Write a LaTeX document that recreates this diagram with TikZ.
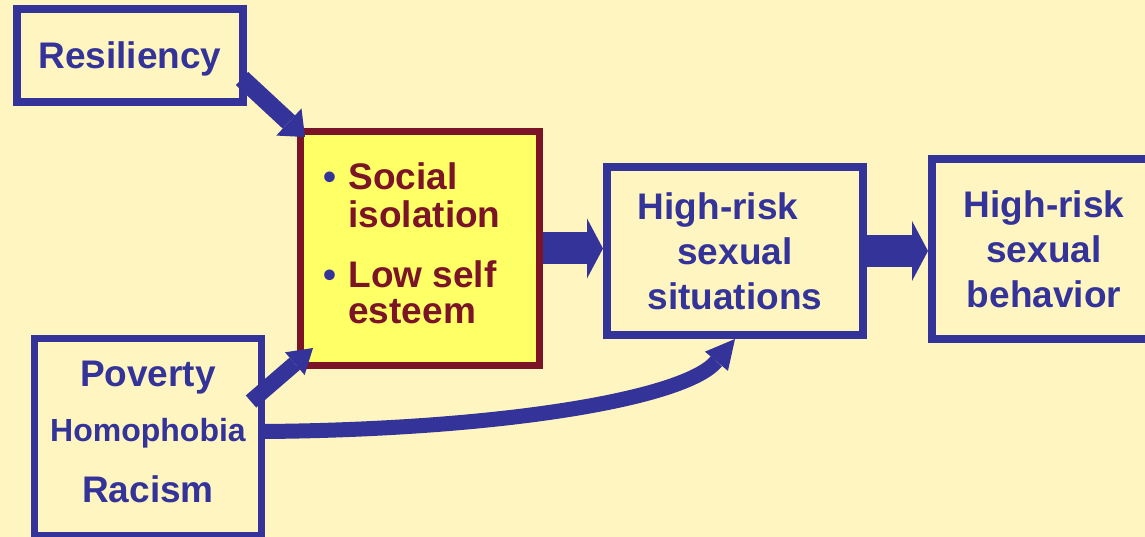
\documentclass[tikz,border=0pt]{standalone}
\usepackage{fontspec}
\setmainfont{Liberation Sans}
\usetikzlibrary{arrows.meta}
\definecolor{riskblue}{HTML}{333399}
\definecolor{riskmaroon}{HTML}{7A1426}
\definecolor{riskyellow}{HTML}{FFFF66}
\definecolor{riskback}{HTML}{FFF5C0}

\begin{document}
\begin{tikzpicture}[x=1pt, y=1pt,
    factor/.style={rectangle, draw=riskblue, line width=8pt, text=riskblue, align=center, inner sep=0pt,
        font=\bfseries\fontsize{37}{45}\selectfont},
    fatarrow/.style n args={3}{draw=riskblue, line width=#1, -{Triangle[length=#2, width=#3, line width=0pt]}}]
    \fill[riskback] (0,0) rectangle (1145,537);
    \useasboundingbox (0,0) rectangle (1145,537);

    % Boxes
    \node[factor, minimum width=226pt, minimum height=93pt, text depth=0pt] (resil) at (130,481.5) {Resiliency};
    \node[rectangle, draw=riskmaroon, fill=riskyellow, line width=7pt, minimum width=239pt, minimum height=234pt] (isol) at (420,288.5) {};
    \node[text=riskmaroon, inner sep=0pt, font=\bfseries\fontsize{37}{36}\selectfont] (isoltext) at ([xshift=-8pt]isol.center)
        {\begin{tabular}{@{}l@{\hspace{12pt}}l@{}}
            \textcolor{riskblue}{\textbullet} & Social\\
            & isolation\\[22pt]
            \textcolor{riskblue}{\textbullet} & Low self\\
            & esteem
        \end{tabular}};
    \node[factor, minimum width=256pt, minimum height=168pt, text depth=0pt] (situ) at (735,286) {High-risk\hspace*{34pt}\\sexual\\situations};
    \node[factor, minimum width=224pt, minimum height=180pt, text depth=0pt] (behav) at (1044,288) {High-risk\\sexual\\behavior};
    \node[factor, line width=7pt, minimum width=227pt, minimum height=197pt, text depth=10pt] (pov) at (148,100)
        {Poverty\\[10pt]{\fontsize{32}{32}\selectfont Homophobia}\\[16pt]Racism};

    % Arrows
    \draw[fatarrow={18pt}{22pt}{37pt}] ([shift={(-5pt,-23pt)}]resil.east) -- ([shift={(8pt,-9pt)}]isol.north west);
    \draw[fatarrow={16pt}{24pt}{30pt}] ([shift={(-14pt,-66.5pt)}]pov.north east) -- ([shift={(16pt,21pt)}]isol.south west);
    \draw[fatarrow={32pt}{16pt}{60pt}] (isol.east) -- (isol.east -| situ.west);
    \draw[fatarrow={32pt}{16pt}{60pt}] (situ.east) -- (situ.east -| behav.west);
    \draw[fatarrow={15pt}{29pt}{30pt}] ([yshift=5.5pt]pov.east) .. controls +(235,2) and +(-50,-60) .. (situ.south);
\end{tikzpicture}
\end{document}
